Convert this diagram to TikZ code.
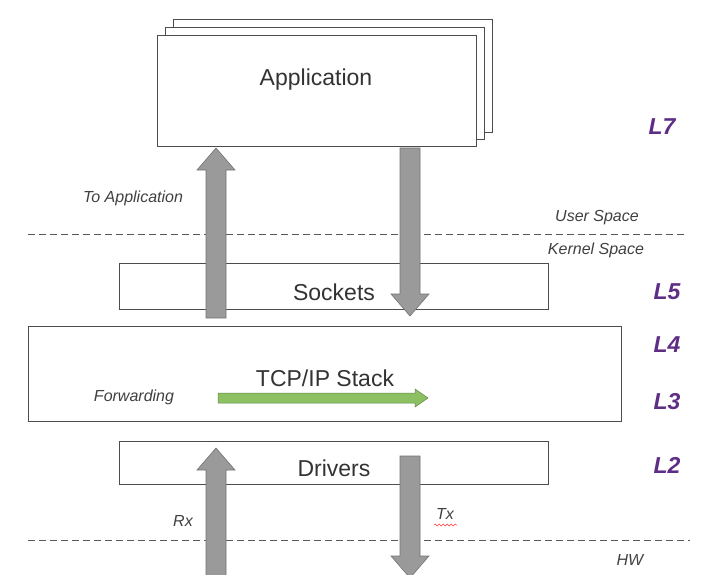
\documentclass[tikz,border=0pt]{standalone}
\usepackage{fontspec}
\usetikzlibrary{decorations.pathmorphing}
\setmainfont{Liberation Sans}
\definecolor{lpurple}{HTML}{5E2D86}
\definecolor{agray}{HTML}{9A9A9A}
\definecolor{agreen}{HTML}{8CC063}
\newcommand\fatarr[3]{% x, tail y, tip y
  \pgfmathsetmacro\dir{(#3>#2)?1:-1}
  \draw[arr] (#1-10,#2) -- (#1-10,#3-\dir*22) -- (#1-19,#3-\dir*22) -- (#1,#3) -- (#1+19,#3-\dir*22) -- (#1+10,#3-\dir*22) -- (#1+10,#2) -- cycle;}
\begin{document}
\begin{tikzpicture}[x=1pt,y=-1pt,
  box/.style={draw=black!70,line width=0.8pt,fill=white},
  arr/.style={fill=agray,draw=black!55,line width=0.6pt},
  big/.style={font=\fontsize{23}{27}\selectfont,text=black!80},
  lab/.style={font=\itshape\fontsize{16}{19}\selectfont,text=black!75},
  lay/.style={font=\bfseries\itshape\fontsize{23}{27}\selectfont,text=lpurple},
  dline/.style={line width=1pt,black!65,dash pattern=on 7pt off 4pt}]
\useasboundingbox (0,0) rectangle (720,575);
\draw[box] (173,19) rectangle (492,132);
\draw[box] (165,27) rectangle (484,139);
\draw[box] (157,35) rectangle (476,146);
\node[big] (app) at (316,80) {Application};
\draw[dline] (28,234) -- (685,234);
\draw[dline] (28,540) -- (690,540);
\node[lab] (user) at (597,218) {User Space};
\node[lab] (kern) at (596,250) {Kernel Space};
\node[lab] (hw) at (630,560) {HW};
\node[lab] (toapp) at (133,198) {To Application};
\draw[box] (119,263) rectangle (548,309);
\draw[box] (28,326) rectangle (621,421);
\draw[box] (119,441) rectangle (548,484);
\node[big] (sock) at (334,292) {Sockets};
\node[big] (tcp) at (325,378) {TCP/IP Stack};
\node[big] (drv) at (334,468) {Drivers};
\node[lab] (fwd) at (134,397) {Forwarding};
\fill[agreen,draw=agreen!70!black,line width=0.5pt] (218,393) -- (415,393) -- (415,389) -- (428,398) -- (415,407) -- (415,403) -- (218,403) -- cycle;
\fatarr{216}{318}{148}
\fatarr{410}{148}{316}
\fatarr{216}{580}{448}
\fatarr{410}{456}{578}
\node[lab] (rx) at (183,521) {Rx};
\node[lab] (tx) at (445,514) {Tx};
\draw[red!80,line width=0.5pt,decorate,decoration={snake,amplitude=1pt,segment length=4pt}] (434,525) -- (457,525);
\node[lay] at (662,127) {L7};
\node[lay] at (667,292) {L5};
\node[lay] at (667,345) {L4};
\node[lay] at (667,402) {L3};
\node[lay] at (667,465) {L2};
\end{tikzpicture}
\end{document}
